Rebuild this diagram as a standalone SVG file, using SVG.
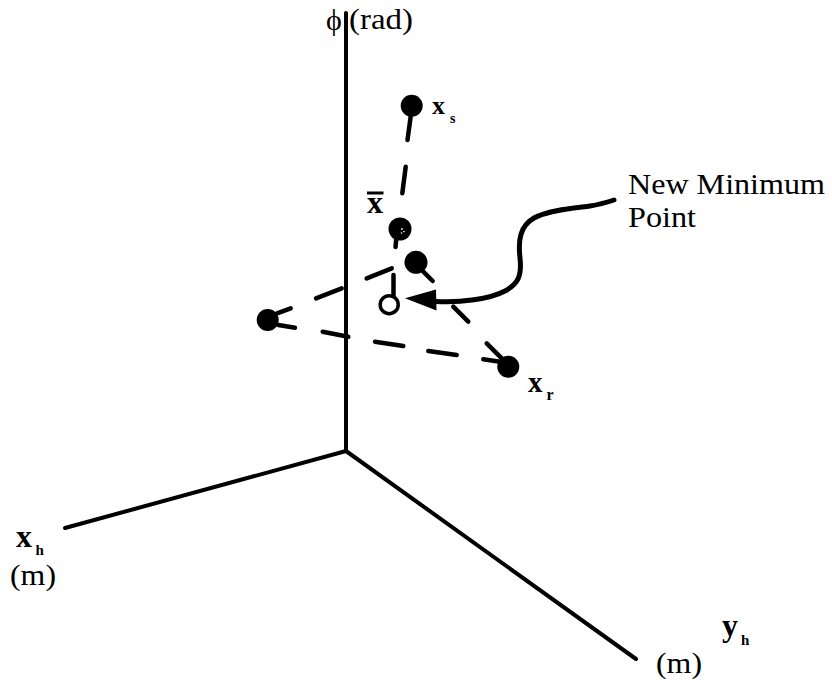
<svg xmlns="http://www.w3.org/2000/svg" width="832" height="684" viewBox="0 0 832 684">
  <style>
    .axis { stroke: #000; stroke-width: 4; stroke-linecap: round; fill: none; }
    .dash { stroke: #000; stroke-width: 4.5; stroke-linecap: round; fill: none; }
    .pt { fill: #000; }
    .open { fill: #fff; stroke: #000; stroke-width: 3.5; }
    .lbl { font-family: "Liberation Serif", Tinos, "Noto Serif", "DejaVu Serif", serif; fill: #000; }
    .bold { font-weight: bold; }
    .lead { stroke: #000; stroke-width: 5; stroke-linecap: round; stroke-linejoin: round; fill: none; }
  </style>
  <rect width="832" height="684" fill="#fff"/>

  <!-- coordinate axes -->
  <g id="axes">
    <line class="axis" x1="346" y1="13" x2="346" y2="451"/>
    <line class="axis" x1="346" y1="451" x2="65" y2="528"/>
    <line class="axis" x1="346" y1="451" x2="636" y2="659"/>
    <text class="lbl" x="326" y="30" font-size="30">ϕ</text>
    <text class="lbl" x="349" y="29" font-size="30" textLength="64" lengthAdjust="spacingAndGlyphs">(rad)</text>
    <text class="lbl bold" x="16" y="546.5" font-size="32">x</text>
    <text class="lbl bold" x="35.5" y="555" font-size="15">h</text>
    <text class="lbl" x="10" y="584.5" font-size="30" textLength="46" lengthAdjust="spacingAndGlyphs">(m)</text>
    <text class="lbl bold" x="722" y="636" font-size="32">y</text>
    <text class="lbl bold" x="741" y="645" font-size="15">h</text>
    <text class="lbl" x="656" y="672.5" font-size="30" textLength="46" lengthAdjust="spacingAndGlyphs">(m)</text>
  </g>

  <!-- dashed simplex edges, drawn as individual strokes -->
  <g id="connectors">
    <!-- x_s to centroid and reflected point -->
    <line class="dash" x1="411" y1="114" x2="407.5" y2="140"/>
    <line class="dash" x1="405.7" y1="166.7" x2="402.3" y2="193.3"/>
    <line class="dash" x1="396.5" y1="236" x2="395.5" y2="247"/>
    <line class="dash" x1="393.5" y1="275" x2="393.5" y2="295"/>
    <!-- left point to upper point -->
    <line class="dash" x1="277" y1="313.3" x2="290.7" y2="308.3"/>
    <line class="dash" x1="316" y1="298.3" x2="341.7" y2="288.3"/>
    <line class="dash" x1="366.7" y1="278.3" x2="391.7" y2="268.3"/>
    <!-- left point to x_r -->
    <line class="dash" x1="278.3" y1="325" x2="295" y2="327.7"/>
    <line class="dash" x1="322.7" y1="331.7" x2="348.3" y2="336.7"/>
    <line class="dash" x1="375" y1="341.7" x2="403.3" y2="346"/>
    <line class="dash" x1="428.3" y1="351" x2="456.7" y2="355"/>
    <line class="dash" x1="483.3" y1="359.3" x2="500" y2="361.7"/>
    <!-- upper point to x_r -->
    <line class="dash" x1="423.3" y1="271.7" x2="432.7" y2="281"/>
    <line class="dash" x1="453.3" y1="306.7" x2="468.3" y2="321.7"/>
    <line class="dash" x1="486.7" y1="343.3" x2="501.7" y2="358.3"/>
  </g>

  <!-- simplex vertices -->
  <g id="x-s">
    <circle class="pt" cx="411.7" cy="105.8" r="11"/>
    <text class="lbl bold" x="432" y="114" font-size="26">x</text>
    <text class="lbl bold" x="450" y="123.3" font-size="14">s</text>
  </g>
  <g id="x-bar">
    <circle class="pt" cx="400" cy="229" r="11.5"/>
    <circle cx="402" cy="229" r="0.9" fill="#fff"/>
    <circle cx="404" cy="231.5" r="0.8" fill="#fff"/>
    <circle cx="401.5" cy="233" r="0.8" fill="#fff"/>
    <line x1="367" y1="193" x2="383.5" y2="193" stroke="#000" stroke-width="3"/>
    <text class="lbl bold" x="367" y="213" font-size="32">x</text>
  </g>
  <g id="upper-point">
    <circle class="pt" cx="416" cy="262.3" r="11.5"/>
  </g>
  <g id="left-point">
    <circle class="pt" cx="267.7" cy="320" r="11"/>
  </g>
  <g id="x-r">
    <circle class="pt" cx="508.3" cy="366.7" r="11"/>
    <text class="lbl bold" x="528" y="391.7" font-size="29">x</text>
    <text class="lbl bold" x="546.5" y="400" font-size="16">r</text>
  </g>
  <g id="new-minimum">
    <circle class="open" cx="389.2" cy="304.7" r="9"/>
  </g>

  <!-- callout -->
  <g id="callout">
    <path class="lead" d="M436,301.5 C460,303 490,299 505,291 C518,284 522,276 520,258 C518,240 520,226 534,218 C548,210 575,208 590,206 C600,204.5 608,202 614,200"/>
    <polygon points="405,298.3 436,289.5 436.5,310.5" fill="#000"/>
    <text class="lbl" x="628" y="194" font-size="30" textLength="197" lengthAdjust="spacingAndGlyphs">New Minimum</text>
    <text class="lbl" x="628" y="227" font-size="30" textLength="68" lengthAdjust="spacingAndGlyphs">Point</text>
  </g>
</svg>
